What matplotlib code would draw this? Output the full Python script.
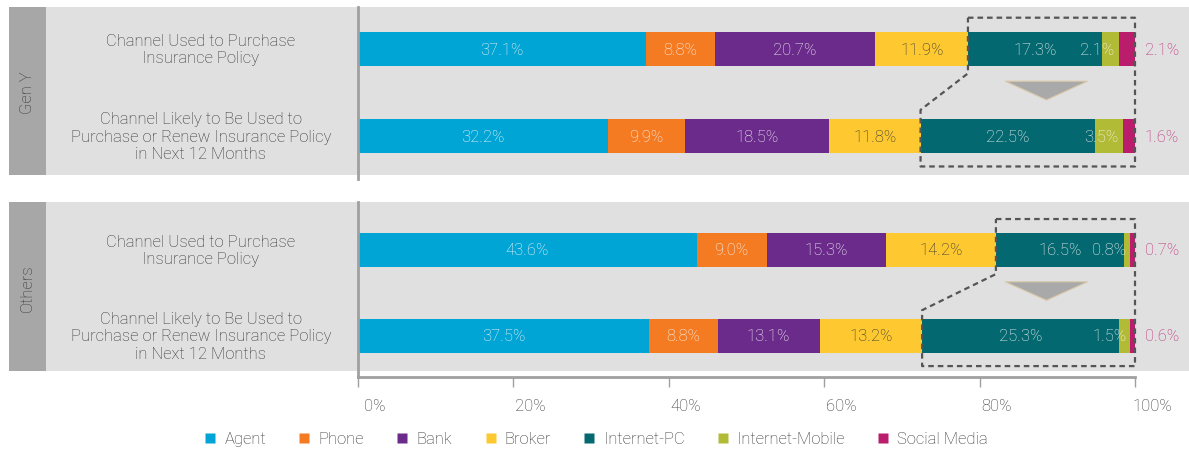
import matplotlib
matplotlib.use("Agg")
import matplotlib.pyplot as plt
from matplotlib.patches import Rectangle, Polygon
from matplotlib.lines import Line2D
import numpy as np

plt.rcParams['font.family'] = ['Roboto', 'DejaVu Sans']

channels = ["Agent", "Phone", "Bank", "Broker", "Internet-PC", "Internet-Mobile", "Social Media"]
colors = ["#00a5d5", "#f47b22", "#6b2b8b", "#fdc830", "#03686f", "#b2bb36", "#b91d6c"]
row_labels = ["Channel Used to Purchase\nInsurance Policy",
              "Channel Likely to Be Used to\nPurchase or Renew Insurance Policy\nin Next 12 Months"]
groups = ["Gen Y", "Others"]
genY_values = [[37.1, 8.8, 20.7, 11.9, 17.3, 2.1, 2.1],
               [32.2, 9.9, 18.5, 11.8, 22.5, 3.5, 1.6]]
others_values = [[43.6, 9.0, 15.3, 14.2, 16.5, 0.8, 0.7],
                 [37.5, 8.8, 13.1, 13.2, 25.3, 1.5, 0.6]]
tick_values = [0, 20, 40, 60, 80, 100]
tick_labels = ["0%", "20%", "40%", "60%", "80%", "100%"]

W, H = 1189, 452
fig = plt.figure(figsize=(W / 100, H / 100), dpi=100)

def fx(px):
    return px / W

def fy(py):
    return 1 - py / H

def add_axes_px(x0, y0, x1, y1):
    return fig.add_axes([fx(x0), fy(y1), fx(x1) - fx(x0), (y1 - y0) / H])

FS = 12
WT = "light"
text_col = "#333333"
light_bg = "#e0e0e0"
dark_bg = "#a7a7a7"
axis_col = "#a0a0a0"

panels = [
    dict(name=groups[0], vals=genY_values, top=8, bot=176, ax=(8, 180), ylim=(1.494, -0.483)),
    dict(name=groups[1], vals=others_values, top=203, bot=372, ax=(203, 378), ylim=(1.477, -0.558)),
]

for p in panels:
    # panel backgrounds
    fig.add_artist(Rectangle((fx(46), fy(p["bot"])), fx(W) - fx(46), (p["bot"] - p["top"]) / H,
                             transform=fig.transFigure, facecolor=light_bg, edgecolor="none", zorder=-5))
    fig.add_artist(Rectangle((fx(9), fy(p["bot"])), fx(46) - fx(9), (p["bot"] - p["top"]) / H,
                             transform=fig.transFigure, facecolor=dark_bg, edgecolor="none", zorder=-5))
    fig.text(fx(27.5), fy((p["top"] + p["bot"]) / 2 + 1), p["name"], rotation=90, ha="center", va="center",
             fontsize=FS, color=text_col, fontweight=WT)

    ax = add_axes_px(358, p["ax"][0], 1135, p["ax"][1])
    ax.set_facecolor("none")
    ax.set_xlim(0, 100)
    ax.set_ylim(*p["ylim"])
    for s in ["top", "right", "bottom"]:
        ax.spines[s].set_visible(False)
    ax.spines["left"].set_color(axis_col)
    ax.spines["left"].set_linewidth(2)
    ax.set_yticks([])
    ax.tick_params(axis="x", bottom=False, labelbottom=False)
    p["axes"] = ax

    y_pos = np.arange(len(p["vals"]))
    bh = 0.39
    for r, vals in enumerate(p["vals"]):
        left = 0.0
        for i, v in enumerate(vals):
            ax.barh(y_pos[r], v, left=left, height=bh, color=colors[i], edgecolor="none")
            lab = f"{v:.1f}%"
            if i <= 4:
                tc = text_col if i == 3 else "#f6f6f6"
                ax.text(left + v / 2, y_pos[r], lab, ha="center", va="center", fontsize=FS,
                        color=tc, fontweight=WT)
            elif i == 5:
                ax.annotate(lab, xy=(left + v, y_pos[r]), xytext=(-4, 0), textcoords="offset pixels",
                            ha="right", va="center", fontsize=FS, color="#f6f6f6", fontweight=WT)
            else:
                ax.annotate(lab, xy=(100, y_pos[r]), xytext=(10, 0), textcoords="offset pixels",
                            ha="left", va="center", fontsize=FS, color="#c02a78", fontweight=WT,
                            annotation_clip=False)
            left += v
        # left row label
        yy = ax.transData.transform((0, y_pos[r]))[1]
        fig.text(fx(201), yy / fig.bbox.height, row_labels[r], ha="center", va="center",
                 fontsize=FS, color=text_col, linespacing=1.22, multialignment="center",
                 fontweight=WT)

    # dashed box highlighting internet channels
    x1 = sum(p["vals"][0][:4])
    x2 = sum(p["vals"][1][:4])
    box = [(x1, -0.36), (100, -0.36), (100, 1.35), (x2, 1.35), (x2, 0.70), (x1, 0.28), (x1, -0.36)]
    bx, by = zip(*box)
    ax.plot(bx, by, color="#555555", lw=1.6, linestyle=(0, (2.5, 1.8)), clip_on=False, zorder=5)
    tri = Polygon([(83.3, 0.37), (93.9, 0.37), (88.6, 0.585)], closed=True, facecolor="#a9a9a9",
                  edgecolor="#d8c8a8", lw=0.8, zorder=4)
    ax.add_patch(tri)

# bottom x axis
axb = panels[1]["axes"]
axb.spines["bottom"].set_visible(True)
axb.spines["bottom"].set_color(axis_col)
axb.spines["bottom"].set_linewidth(2)
axb.set_xticks(tick_values)
axb.set_xticklabels(tick_labels)
axb.tick_params(axis="x", bottom=True, labelbottom=True, direction="out", length=7, width=1,
                color=axis_col, labelsize=FS, labelcolor=text_col, pad=8)
for lab in axb.get_xticklabels():
    lab.set_fontweight(WT)
    lab.set_transform(lab.get_transform() + matplotlib.transforms.ScaledTranslation(17 / 100, 0, fig.dpi_scale_trans))

# legend
handles = [Line2D([0], [0], marker="s", linestyle="none", markersize=7, markerfacecolor=c,
                  markeredgecolor="none") for c in colors]
leg = fig.legend(handles, channels, loc="center", bbox_to_anchor=(fx(596), fy(440)), ncol=7, frameon=False,
                 fontsize=FS, handlelength=0.7, handletextpad=0.5, columnspacing=1.95)
for t in leg.get_texts():
    t.set_color(text_col)
    t.set_fontweight(WT)

fig.savefig("out.png", dpi=100, facecolor="white")
